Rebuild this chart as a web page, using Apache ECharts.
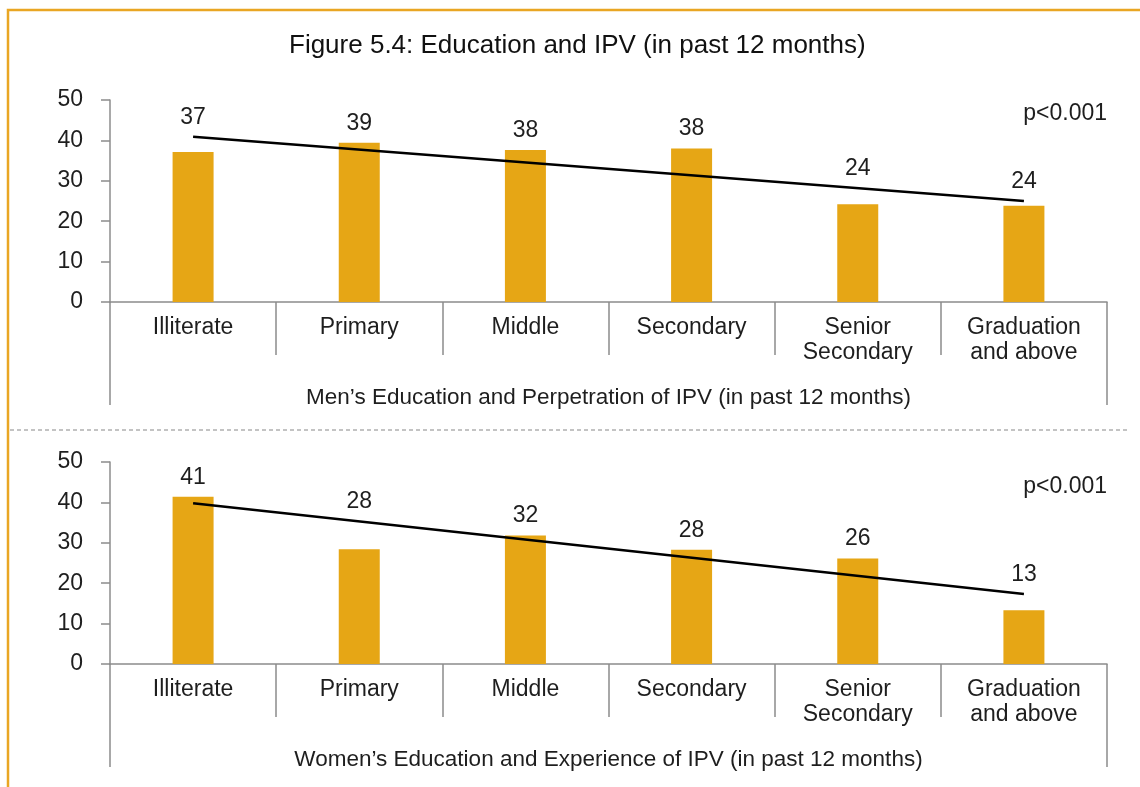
<!DOCTYPE html>
<html>
<head>
<meta charset="utf-8">
<script src="https://cdn.jsdelivr.net/npm/echarts@6/dist/echarts.min.js"></script>
<style>
  body { margin: 0; background: #fff; }
  #myChart { width: 1140px; height: 787px; }
</style>
</head>
<body>
<div id="myChart"></div>
<script>
// categories (same for both panels)
var categories = ['Illiterate', 'Primary', 'Middle', 'Secondary', 'Senior\nSecondary', 'Graduation\nand above'];
var yTicks = [0, 10, 20, 30, 40, 50];

// men: perpetration of IPV (%)
var menValues = [37.1, 39.4, 37.6, 38.0, 24.2, 23.8];
var menTrend = [40.9, null, null, null, null, 25.0];

// women: experience of IPV (%)
var womenValues = [41.4, 28.4, 31.8, 28.3, 26.1, 13.3];
var womenTrend = [39.8, null, null, null, null, 17.3];

var menAxisTitle = 'Men\u2019s Education and Perpetration of IPV (in past 12 months)';
var womenAxisTitle = 'Women\u2019s Education and Experience of IPV (in past 12 months)';

var font = 'Liberation Sans';
var fs = 23;
var textColor = '#1e1e1e';
var axisColor = '#8c8c8c';
var barColor = '#E6A615';

// label anchor: above the bar or the trend line, whichever is higher
function labelAnchors(values, trend) {
  var a = trend[0], b = trend[trend.length - 1], n = values.length - 1;
  return values.map(function (v, i) {
    var t = a + (b - a) * i / n;
    return Math.max(v, t);
  });
}

function catAxis(grid, title) {
  return [{
    type: 'category', gridIndex: grid, data: categories, position: 'bottom',
    axisLine: { show: true, lineStyle: { color: axisColor, width: 1.5 } },
    axisTick: { show: true, interval: 0, length: 53, lineStyle: { color: axisColor, width: 1.5 } },
    axisLabel: { interval: 0, margin: 13, fontSize: fs, lineHeight: 25, color: textColor, fontFamily: font }
  }, {
    // outer frame of the category block + axis title
    type: 'category', gridIndex: grid, data: [''], position: 'bottom', offset: 0,
    axisLine: { show: false },
    axisTick: { show: true, length: 103, lineStyle: { color: axisColor, width: 1.5 } },
    axisLabel: { show: false },
    name: title, nameLocation: 'middle', nameGap: 84,
    nameTextStyle: { fontSize: 22.5, color: textColor, fontFamily: font }
  }];
}

function valAxis(grid) {
  return {
    type: 'value', gridIndex: grid, min: yTicks[0], max: yTicks[yTicks.length - 1], interval: 10,
    splitLine: { show: false },
    axisLine: { show: true, lineStyle: { color: axisColor, width: 1.5 } },
    axisTick: { show: true, length: 9, lineStyle: { color: axisColor, width: 1.5 } },
    axisLabel: { margin: 27, fontSize: fs, color: textColor, fontFamily: font }
  };
}

function panelSeries(ax, values, trend) {
  return [{
    type: 'bar', xAxisIndex: ax * 2, yAxisIndex: ax, data: values,
    barWidth: 41, itemStyle: { color: barColor }, silent: true
  }, {
    type: 'line', xAxisIndex: ax * 2, yAxisIndex: ax, data: trend, connectNulls: true,
    symbol: 'none', lineStyle: { color: '#000', width: 2.5 }, z: 5, silent: true
  }, {
    type: 'scatter', xAxisIndex: ax * 2, yAxisIndex: ax, data: labelAnchors(values, trend),
    symbolSize: 0, z: 6, silent: true, itemStyle: { opacity: 1 },
    label: {
      show: true, position: 'top', distance: 8, fontSize: fs, color: textColor,
      fontFamily: font,
      formatter: function (p) { return Math.round(values[p.dataIndex]); }
    }
  }];
}

var myChart = echarts.init(document.getElementById('myChart'));
myChart.setOption({
  animation: false,
  title: [
    { text: 'Figure 5.4: Education and IPV (in past 12 months)', left: 289, top: 33, padding: 0,
      textStyle: { fontSize: 26, fontWeight: 400, color: '#111', fontFamily: font } },
    { text: 'p<0.001', right: 33, top: 102, padding: 0,
      textStyle: { fontSize: fs, fontWeight: 400, color: textColor, fontFamily: font } },
    { text: 'p<0.001', right: 33, top: 475, padding: 0,
      textStyle: { fontSize: fs, fontWeight: 400, color: textColor, fontFamily: font } }
  ],
  grid: [
    { left: 110, right: 33, top: 100, height: 202 },
    { left: 110, right: 33, top: 462, height: 202 }
  ],
  xAxis: catAxis(0, menAxisTitle).concat(catAxis(1, womenAxisTitle)),
  yAxis: [valAxis(0), valAxis(1)],
  series: panelSeries(0, menValues, menTrend).concat(panelSeries(1, womenValues, womenTrend)),
  graphic: [
    { type: 'polyline', shape: { points: [[8, 787], [8, 10], [1140, 10]] },
      style: { stroke: '#E9A623', lineWidth: 2.5, fill: null }, silent: true },
    { type: 'line', shape: { x1: 10, y1: 430, x2: 1128, y2: 430 },
      style: { stroke: '#888', lineWidth: 1.2, lineDash: [4, 3] }, silent: true }
  ]
});
</script>
</body>
</html>
